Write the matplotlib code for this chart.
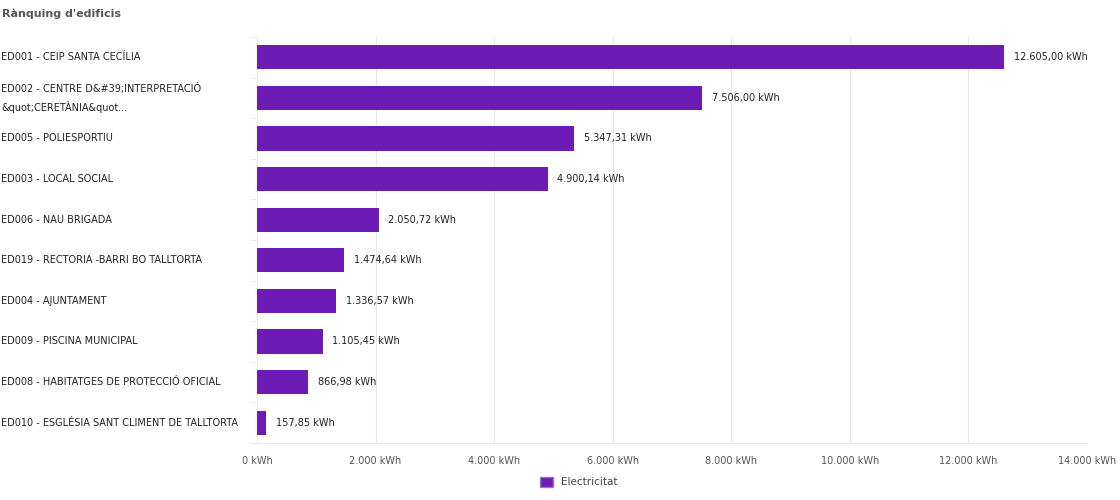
import matplotlib.pyplot as plt
import matplotlib.patches as mpatches
import matplotlib.transforms as mtransforms
from matplotlib.ticker import FuncFormatter

edificis = [
    'ED001 - CEIP SANTA CECÍLIA',
    'ED002 - CENTRE D&#39;INTERPRETACIÓ\n&quot;CERETÀNIA&quot...',
    'ED005 - POLIESPORTIU',
    'ED003 - LOCAL SOCIAL',
    'ED006 - NAU BRIGADA',
    'ED019 - RECTORIA -BARRI BO TALLTORTA',
    'ED004 - AJUNTAMENT',
    'ED009 - PISCINA MUNICIPAL',
    'ED008 - HABITATGES DE PROTECCIÓ OFICIAL',
    'ED010 - ESGLÉSIA SANT CLIMENT DE TALLTORTA',
]
electricitat = [12605.00, 7506.00, 5347.31, 4900.14, 2050.72,
                1474.64, 1336.57, 1105.45, 866.98, 157.85]
xticks = [0, 2000, 4000, 6000, 8000, 10000, 12000, 14000]

color = '#6c1cb4'
grid = '#e8e8e8'


def fmt_num(v, dec=2):
    s = f'{v:,.{dec}f}'
    return s.replace(',', 'X').replace('.', ',').replace('X', '.')


fig = plt.figure(figsize=(11.2, 5), dpi=100)
ax = fig.add_axes([0.2295, 0.114, 0.741, 0.812])

y = list(range(len(edificis)))
ax.barh(y, electricitat, height=0.6, color=color, zorder=2)
ax.set_ylim(len(edificis) - 0.5, -0.5)
ax.set_xlim(0, 14000)

for yi, v in zip(y, electricitat):
    ax.annotate(fmt_num(v) + ' kWh', (v, yi), xytext=(7, 0),
                textcoords='offset points', va='center', ha='left',
                fontsize=7, color='#222222')

ax.set_xticks(xticks)
ax.xaxis.set_major_formatter(FuncFormatter(lambda v, p: fmt_num(v, 0) + ' kWh'))
ax.tick_params(axis='x', length=0, labelsize=7, labelcolor='#555555', pad=9)
ax.grid(axis='x', color=grid, linewidth=0.8, zorder=0)

ax.set_yticks([i - 0.5 for i in range(len(edificis) + 1)], minor=True)
ax.set_yticks(y)
ax.set_yticklabels([])
ax.tick_params(axis='y', which='major', length=0)
ax.tick_params(axis='y', which='minor', length=5, color=grid)

# category names, left-aligned at the figure edge
name_tr = mtransforms.blended_transform_factory(fig.transFigure, ax.transData)
for yi, name in zip(y, edificis):
    ax.text(0.001, yi, name, transform=name_tr, ha='left', va='center',
            fontsize=7, color='#222222', linespacing=1.7)

for s in ['top', 'right', 'left']:
    ax.spines[s].set_visible(False)
ax.spines['bottom'].set_color(grid)

fig.text(0.002, 0.972, "Rànquing d'edificis", fontsize=8, fontweight='bold',
         color='#555555', ha='left', va='center')

handle = mpatches.Patch(facecolor=color, edgecolor='#a070d0', label='Electricitat')
fig.legend(handles=[handle], loc='center', bbox_to_anchor=(0.517, 0.036), frameon=False,
           fontsize=7.5, handlelength=1.2, handleheight=1.2, labelcolor='#444444')

fig.savefig('out.png', dpi=100)
